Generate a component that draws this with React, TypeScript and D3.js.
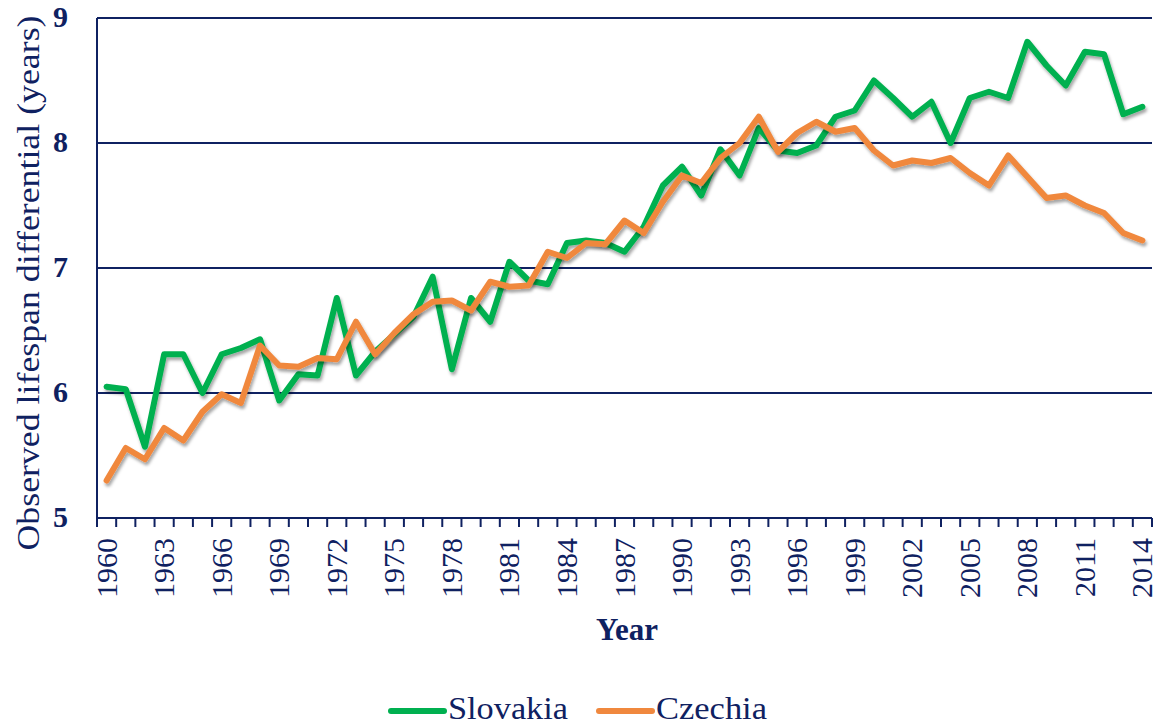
import React from "react";
import * as d3 from "d3";

const years = d3.range(1960, 2015);

const slovakia = [
  6.05, 6.03, 5.57, 6.31, 6.31, 6.0, 6.31, 6.36, 6.43, 5.94,
  6.15, 6.14, 6.76, 6.14, 6.33, 6.47, 6.61, 6.93, 6.19, 6.76,
  6.57, 7.05, 6.9, 6.87, 7.2, 7.22, 7.2, 7.13, 7.33, 7.66,
  7.81, 7.58, 7.95, 7.74, 8.12, 7.94, 7.92, 7.98, 8.21, 8.26,
  8.5, 8.36, 8.21, 8.33, 8.0, 8.36, 8.41, 8.36, 8.81, 8.62,
  8.46, 8.73, 8.71, 8.23, 8.29,
];

const czechia = [
  5.3, 5.56, 5.47, 5.72, 5.62, 5.85, 5.99, 5.92, 6.38, 6.22,
  6.21, 6.28, 6.27, 6.57, 6.31, 6.48, 6.63, 6.73, 6.74, 6.66,
  6.89, 6.85, 6.86, 7.13, 7.08, 7.2, 7.19, 7.38, 7.28, 7.53,
  7.74, 7.68, 7.88, 8.0, 8.21, 7.93, 8.08, 8.17, 8.09, 8.12,
  7.94, 7.82, 7.86, 7.84, 7.88, 7.76, 7.66, 7.9, 7.73, 7.56,
  7.58, 7.5, 7.44, 7.28, 7.22,
];

const yTicks = [5, 6, 7, 8, 9];

const series = [
  { name: "Slovakia", values: slovakia, color: "#00B050", labelW: 120 },
  { name: "Czechia", values: czechia, color: "#F0883E", labelW: 111 },
];

const navy = "#0F2161";
const font = "Liberation Serif, Times New Roman, serif";

export default function App() {
  const width = 1162, height = 726;
  const left = 97, right = 1152, top = 18, bottom = 518;

  const x = d3.scaleBand<number>().domain(years).range([left, right]);
  const y = d3.scaleLinear().domain([5, 9]).range([bottom, top]);
  const cx = (yr: number) => (x(yr) as number) + x.bandwidth() / 2;

  const line = d3.line<number>()
    .x((_, i) => cx(years[i]))
    .y(d => y(d));

  return (
    <svg width={width} height={height} style={{ position: "absolute", left: 0, top: 0 }}>
      <defs>
        <filter id="shadow" x="-5%" y="-5%" width="110%" height="120%">
          <feDropShadow dx="1.5" dy="3" stdDeviation="1.8" floodColor="#000" floodOpacity="0.35" />
        </filter>
      </defs>

      {/* grid */}
      {yTicks.map(t => (
        <line key={t} x1={left} x2={right} y1={y(t)} y2={y(t)} stroke={navy} strokeWidth={2} />
      ))}
      <line x1={left} x2={left} y1={top} y2={bottom} stroke={navy} strokeWidth={2} />

      {/* x ticks */}
      {years.concat([2015]).map((yr, i) => {
        const xx = i < years.length ? (x(yr) as number) : right;
        return <line key={yr} x1={xx} x2={xx} y1={bottom} y2={bottom + 9} stroke={navy} strokeWidth={2} />;
      })}
      {years.filter((_, i) => i % 3 === 0).map(yr => (
        <text key={yr} transform={`translate(${cx(yr) + 10},${bottom + 20}) rotate(-90)`}
          textAnchor="end" fontFamily={font} fontSize={30} fill={navy}>{yr}</text>
      ))}

      {/* y tick labels */}
      {yTicks.map(t => (
        <text key={t} x={68} y={y(t) + 9} textAnchor="end" fontFamily={font}
          fontWeight="bold" fontSize={30} fill={navy}>{t}</text>
      ))}

      <text transform={`translate(39,${(top + bottom) / 2 + 15}) rotate(-90)`} textAnchor="middle"
        fontFamily={font} fontSize={31} fill={navy} textLength={535} lengthAdjust="spacingAndGlyphs">
        Observed lifespan differential (years)
      </text>
      <text x={627} y={640} textAnchor="middle" fontFamily={font} fontWeight="bold" fontSize={31} fill={navy}>Year</text>

      {/* lines */}
      {series.map(s => (
        <path key={s.name} d={line(s.values) ?? ""} fill="none" stroke={s.color} strokeWidth={6}
          strokeLinejoin="round" strokeLinecap="round" filter="url(#shadow)" />
      ))}

      {/* legend */}
      {series.map((s, i) => {
        const lx = 391 + i * 208;
        return (
          <g key={s.name}>
            <line x1={lx} x2={lx + 53} y1={711} y2={711} stroke={s.color} strokeWidth={6} strokeLinecap="round" />
            <text x={lx + 57} y={719} fontFamily={font} fontSize={31} fill={navy}
              textLength={s.labelW} lengthAdjust="spacingAndGlyphs">{s.name}</text>
          </g>
        );
      })}
    </svg>
  );
}
